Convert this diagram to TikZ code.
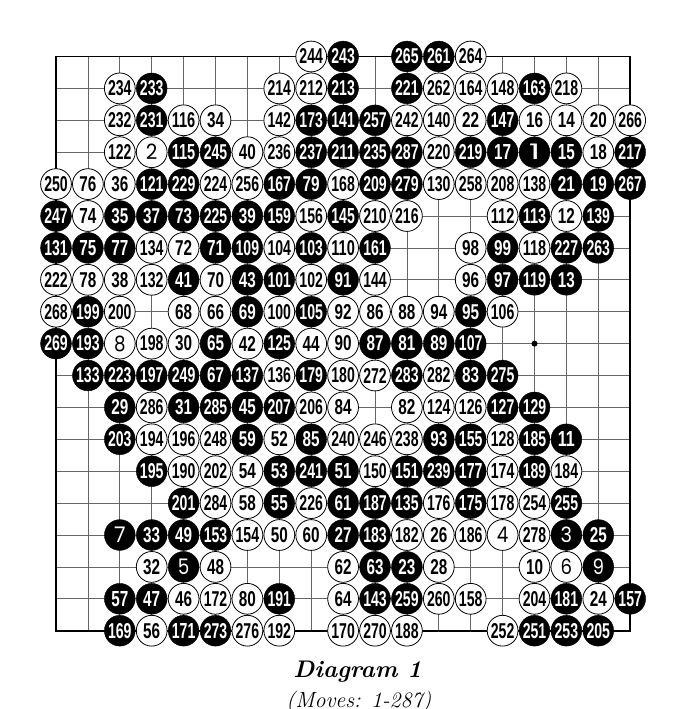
\documentclass[tikz,border=0pt]{standalone}
\usepackage{fontspec}
\usepackage{graphicx}
\newfontfamily\numfont{Liberation Sans Bold}
\newfontfamily\digfont{Poppins}
\newcommand\stonetext[1]{\ifnum#1<10 \resizebox{11.5pt}{15.5pt}{\digfont #1}\else\ifnum#1<100 \resizebox{17pt}{15pt}{\numfont #1}\else\resizebox{23.5pt}{15pt}{\numfont #1}\fi\fi}
\tikzset{
  gridline/.style={draw=black!60, line width=0.8pt},
  boardedge/.style={draw=black, line width=1.8pt},
  wstone/.style={circle, draw=black, line width=0.8pt, fill=white, minimum size=30.8pt, inner sep=0pt},
  bstone/.style={circle, fill=black, draw=black, line width=0.4pt, minimum size=30.8pt, inner sep=0pt, text=white},
  hoshi/.style={circle, fill=black, minimum size=6pt, inner sep=0pt},
}
\begin{document}
\begin{tikzpicture}[x=1pt,y=-1pt]
\useasboundingbox (0,0) rectangle (675,709);
% grid
\foreach \i in {2,...,18}{
  \draw[gridline] ({56+31.9*(\i-1)},56.5) -- ({56+31.9*(\i-1)},630.7);
  \draw[gridline] (56,{56.5+31.9*(\i-1)}) -- (630.2,{56.5+31.9*(\i-1)});
}
\draw[boardedge] (56,56.5) rectangle (630.2,630.7);
\node[hoshi] (star) at ({56+31.9*15},{56.5+31.9*9}) {};
% white stones
\foreach \r/\c/\n in {
1/9/244,1/14/264,
2/3/234,2/8/214,2/9/212,2/13/262,2/14/164,2/15/148,2/17/218,
3/3/232,3/5/116,3/6/34,3/8/142,3/12/242,3/13/140,3/14/22,3/16/16,3/17/14,3/18/20,3/19/266,
4/3/122,4/4/2,4/7/40,4/8/236,4/13/220,4/18/18,
5/1/250,5/2/76,5/3/36,5/6/224,5/7/256,5/10/168,5/13/130,5/14/258,5/15/208,5/16/138,
6/2/74,6/9/156,6/11/210,6/12/216,6/15/112,6/17/12,
7/4/134,7/5/72,7/8/104,7/10/110,7/14/98,7/16/118,
8/1/222,8/2/78,8/3/38,8/4/132,8/6/70,8/9/102,8/11/144,8/14/96,
9/1/268,9/3/200,9/5/68,9/6/66,9/8/100,9/10/92,9/11/86,9/12/88,9/13/94,9/15/106,
10/3/8,10/4/198,10/5/30,10/7/42,10/9/44,10/10/90,
11/8/136,11/10/180,11/11/272,11/13/282,
12/4/286,12/9/206,12/10/84,12/12/82,12/13/124,12/14/126,
13/4/194,13/5/196,13/6/248,13/8/52,13/10/240,13/11/246,13/12/238,13/15/128,
14/5/190,14/6/202,14/7/54,14/11/150,14/15/174,14/17/184,
15/6/284,15/7/58,15/9/226,15/13/176,15/15/178,15/16/254,
16/7/154,16/8/50,16/9/60,16/12/182,16/13/26,16/14/186,16/15/4,16/16/278,
17/4/32,17/6/48,17/10/62,17/13/28,17/16/10,17/17/6,
18/5/46,18/6/172,18/7/80,18/10/64,18/13/260,18/14/158,18/16/204,18/18/24,
19/4/56,19/7/276,19/8/192,19/10/170,19/11/270,19/12/188,19/15/252}{
  \node[wstone] (s\n) at ({56+31.9*(\c-1)},{56.5+31.9*(\r-1)}) {\stonetext{\n}};
}
% black stones
\foreach \r/\c/\n in {
1/10/243,1/12/265,1/13/261,
2/4/233,2/10/213,2/12/221,2/16/163,
3/4/231,3/9/173,3/10/141,3/11/257,3/15/147,
4/5/115,4/6/245,4/9/237,4/10/211,4/11/235,4/12/287,4/14/219,4/15/17,4/16/1,4/17/15,4/19/217,
5/4/121,5/5/229,5/8/167,5/9/79,5/11/209,5/12/279,5/17/21,5/18/19,5/19/267,
6/1/247,6/3/35,6/4/37,6/5/73,6/6/225,6/7/39,6/8/159,6/10/145,6/16/113,6/18/139,
7/1/131,7/2/75,7/3/77,7/6/71,7/7/109,7/9/103,7/11/161,7/15/99,7/17/227,7/18/263,
8/5/41,8/7/43,8/8/101,8/10/91,8/15/97,8/16/119,8/17/13,
9/2/199,9/7/69,9/9/105,9/14/95,
10/1/269,10/2/193,10/6/65,10/8/125,10/11/87,10/12/81,10/13/89,10/14/107,
11/2/133,11/3/223,11/4/197,11/5/249,11/6/67,11/7/137,11/9/179,11/12/283,11/14/83,11/15/275,
12/3/29,12/5/31,12/6/285,12/7/45,12/8/207,12/15/127,12/16/129,
13/3/203,13/7/59,13/9/85,13/13/93,13/14/155,13/16/185,13/17/11,
14/4/195,14/8/53,14/9/241,14/10/51,14/12/151,14/13/239,14/14/177,14/16/189,
15/5/201,15/8/55,15/10/61,15/11/187,15/12/135,15/14/175,15/17/255,
16/3/7,16/4/33,16/5/49,16/6/153,16/10/27,16/11/183,16/17/3,16/18/25,
17/5/5,17/11/63,17/12/23,17/18/9,
18/3/57,18/4/47,18/8/191,18/11/143,18/12/259,18/17/181,18/19/157,
19/3/169,19/5/171,19/6/273,19/16/251,19/17/253,19/18/205}{
  \node[bstone] (s\n) at ({56+31.9*(\c-1)},{56.5+31.9*(\r-1)}) {\stonetext{\n}};
}
% caption
\node[anchor=base, inner sep=0pt] (title) at (357.5,677) {\fontsize{24}{28}\selectfont\bfseries\itshape Diagram 1};
\node[anchor=base, inner sep=0pt] (moves) at (359,707) {\fontsize{22}{26}\selectfont\itshape (Moves: 1-287)};
\end{tikzpicture}
\end{document}
